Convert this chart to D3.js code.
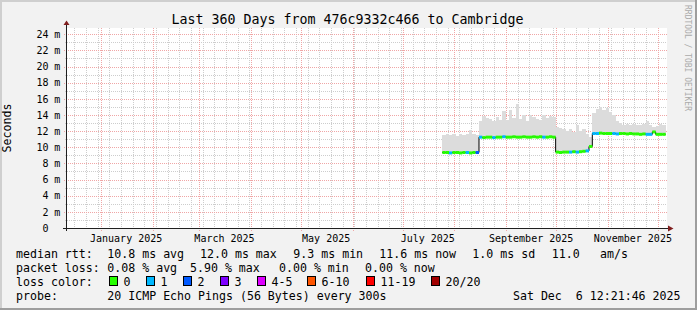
<!DOCTYPE html>
<html>
<head>
<meta charset="utf-8">
<script src="https://cdn.jsdelivr.net/npm/d3@7"></script>
<style>
  body { margin: 0; background: #f2f2f2; }
  svg { display: block; }
  text { font-family: "DejaVu Sans Mono", monospace; fill: #000; white-space: pre; }
</style>
</head>
<body>
<div id="chart"></div>
<script>
"use strict"

// ---- data ----
const graphEnd = new Date(2025, 11, 6, 12, 21, 46);
const graphDays = 360;
const binStart = new Date(2025, 6, 24, 17, 0);   // first 2-day bin
const binDays = 2;

// median rtt per 2-day bin (ms)
const medianMs = [
  9.35, 9.35, 9.3, 9.35, 9.35, 9.3, 9.35, 9.35, 9.3, 9.35, 9.35,
  11.25, 11.2, 11.25, 11.25, 11.2, 11.25, 11.25, 11.3, 11.25, 11.25, 11.3, 11.25,
  11.25, 11.3, 11.25, 11.25, 11.3, 11.25, 11.3, 11.25, 11.25, 11.3, 11.25,
  9.4, 9.35, 9.4, 9.4, 9.4, 9.45, 9.4, 9.45, 9.5, 9.55,
  10.1,
  11.7, 11.7, 11.75, 11.7, 11.7, 11.7, 11.7, 11.65, 11.7, 11.7, 11.65,
  11.7, 11.65, 11.65, 11.6, 11.65, 11.6, 11.6, 11.9, 11.6, 11.6, 11.6
];

// top of the smoke (slowest ping) per bin (ms)
const smokeMaxMs = [
  11.5, 11.6, 11.5, 11.7, 11.4, 11.6, 11.5, 11.7, 12.1, 11.6, 11.5,
  13.2, 13.9, 13.6, 13.5, 13.3, 13.7, 13.4, 14.5, 13.4, 14.6, 13.6, 15.4,
  13.5, 14.0, 13.3, 14.0, 13.8, 13.5, 13.4, 14.0, 13.6, 13.9, 13.8,
  12.5, 12.4, 12.3, 12.0, 12.2, 11.9, 12.7, 12.0, 12.3, 11.6,
  11.3,
  14.3, 14.8, 15.0, 14.6, 14.9, 14.4, 14.0, 13.3, 13.0, 12.8, 12.9,
  12.7, 12.9, 12.7, 12.8, 12.9, 13.2, 12.7, 12.5, 12.6, 12.9, 12.8
];

// lost pings (of 20) per bin
const lostPings = [
  0, 0, 1, 0, 0, 0, 0, 1, 0, 0, 2,
  1, 0, 0, 0, 1, 0, 0, 1, 0, 0, 0, 0,
  0, 0, 0, 0, 0, 0, 0, 1, 0, 0, 0,
  0, 0, 0, 0, 1, 0, 1, 0, 0, 1,
  0,
  1, 1, 0, 0, 0, 0, 1, 1, 0, 0, 0,
  0, 0, 0, 0, 0, 1, 1, 0, 0, 0, 0
];

const yMajorTicks = [0, 2, 4, 6, 8, 10, 12, 14, 16, 18, 20, 22, 24];
const xLabelMonths = ["January 2025", "March 2025", "May 2025", "July 2025", "September 2025", "November 2025"];

const titleText = "Last 360 Days from 476c9332c466 to Cambridge";
const rttStats = ["10.8 ms avg", "12.0 ms max", "9.3 ms min", "11.6 ms now", "1.0 ms sd", "11.0", "am/s"];
const lossStats = ["0.08 % avg", "5.90 % max", "0.00 % min", "0.00 % now"];
const lossClasses = ["0", "1", "2", "3", "4-5", "6-10", "11-19", "20/20"];
const lossColors = ["#26ff00", "#00b8ff", "#0059ff", "#7e00ff", "#dd00ff", "#ff5500", "#ff0000", "#a10000"];
const lossBreaks = [1, 2, 3, 4, 6, 11, 20];
const probeText = "20 ICMP Echo Pings (56 Bytes) every 300s";
const stampText = "Sat Dec  6 12:21:46 2025";

// ---- layout ----
const width = 697, height = 310;
const plot = { left: 67, right: 667, top: 28, bottom: 228 };
const rttX = [107.3, 200, 293.3, 379.3, 472.3, 551.7, 600];
const lossX = [107.3, 190, 279, 365];
const boxX = [109, 146, 183, 220, 257, 307, 366, 431];
const rowY = [258.3, 272.2, 286, 299.8];

window.addEventListener("load", drawChart);

function drawChart() {
  let graphStart = new Date(graphEnd.getTime() - graphDays * 864e5);
  let x = d3.scaleTime().domain([graphStart, graphEnd]).range([plot.left, plot.right]);
  let y = d3.scaleLinear().domain([0, 24.77]).range([plot.bottom, plot.top]);
  let lossColor = d3.scaleThreshold().domain(lossBreaks).range(lossColors);

  let bins = medianMs.map((m, i) => ({
    start: d3.timeHour.offset(binStart, i * binDays * 24),
    end: d3.timeHour.offset(binStart, (i + 1) * binDays * 24),
    median: m,
    smoke: smokeMaxMs[i],
    lost: lostPings[i]
  }));

  let svg = d3.select("#chart").append("svg")
    .attr("width", width)
    .attr("height", height);

  // background and 3d frame
  svg.append("rect").attr("width", width).attr("height", height).attr("fill", "#f2f2f2");
  svg.append("rect").attr("width", width).attr("height", 2).attr("fill", "#cfcfcf");
  svg.append("rect").attr("width", 2).attr("height", height).attr("fill", "#cfcfcf");
  svg.append("rect").attr("x", width - 2).attr("width", 2).attr("height", height).attr("fill", "#9e9e9e");
  svg.append("rect").attr("y", height - 2).attr("width", width).attr("height", 2).attr("fill", "#9e9e9e");

  svg.append("rect")
    .attr("x", plot.left).attr("y", plot.top)
    .attr("width", plot.right - plot.left).attr("height", plot.bottom - plot.top)
    .attr("fill", "#fff");

  let grid = svg.append("g").attr("shape-rendering", "crispEdges");

  // minor grid: every week and every 1 ms
  let weeks = d3.timeMonday.range(graphStart, graphEnd).filter(d => d.getDate() !== 1);
  grid.selectAll(".vminor").data(weeks).enter().append("line")
    .attr("x1", d => Math.round(x(d)) + 0.5).attr("x2", d => Math.round(x(d)) + 0.5)
    .attr("y1", plot.top).attr("y2", plot.bottom + 2)
    .attr("stroke", "#cdcdcd").attr("stroke-dasharray", "1,1");
  let minorMs = d3.range(1, 25, 2);
  grid.selectAll(".hminor").data(minorMs).enter().append("line")
    .attr("x1", plot.left - 2).attr("x2", plot.right)
    .attr("y1", d => Math.round(y(d)) + 0.5).attr("y2", d => Math.round(y(d)) + 0.5)
    .attr("stroke", "#cdcdcd").attr("stroke-dasharray", "1,1");

  // major grid: every month and every 2 ms
  let months = d3.timeMonth.range(graphStart, graphEnd);
  grid.selectAll(".vmajor").data(months).enter().append("line")
    .attr("x1", d => Math.round(x(d)) + 0.5).attr("x2", d => Math.round(x(d)) + 0.5)
    .attr("y1", plot.top).attr("y2", plot.bottom + 3)
    .attr("stroke", "#f0a6a6").attr("stroke-dasharray", "1,1");
  grid.selectAll(".hmajor").data(yMajorTicks.filter(d => d > 0)).enter().append("line")
    .attr("x1", plot.left - 3).attr("x2", plot.right)
    .attr("y1", d => Math.round(y(d)) + 0.5).attr("y2", d => Math.round(y(d)) + 0.5)
    .attr("stroke", "#f0a6a6").attr("stroke-dasharray", "1,1");

  // smoke
  svg.append("g").selectAll("rect").data(bins).enter().append("rect")
    .attr("x", d => x(d.start))
    .attr("width", d => x(d.end) - x(d.start))
    .attr("y", d => y(d.smoke))
    .attr("height", d => y(d.median) - y(d.smoke))
    .attr("fill", "#dcdcdc")
    .attr("shape-rendering", "crispEdges");

  // median: thin black step line with loss-coloured segments on top
  let stepLine = d3.line()
    .x(d => x(d[0]))
    .y(d => y(d[1]))
    .curve(d3.curveStepAfter);
  let stepPoints = bins.map(d => [d.start, d.median]);
  stepPoints.push([bins[bins.length - 1].end, bins[bins.length - 1].median]);
  svg.append("path")
    .attr("d", stepLine(stepPoints))
    .attr("fill", "none")
    .attr("stroke", "#000")
    .attr("stroke-width", 1);

  svg.append("g").selectAll("line").data(bins).enter().append("line")
    .attr("x1", d => x(d.start))
    .attr("x2", d => x(d.end))
    .attr("y1", d => y(d.median))
    .attr("y2", d => y(d.median))
    .attr("stroke", d => lossColor(d.lost))
    .attr("stroke-width", 3);

  // axes
  let axis = svg.append("g").attr("shape-rendering", "crispEdges");
  axis.append("line")
    .attr("x1", plot.left - 4).attr("x2", plot.right + 2)
    .attr("y1", plot.bottom + 0.5).attr("y2", plot.bottom + 0.5)
    .attr("stroke", "#1f1f1f");
  axis.append("line")
    .attr("x1", plot.left - 0.5).attr("x2", plot.left - 0.5)
    .attr("y1", plot.bottom + 3).attr("y2", plot.top - 3)
    .attr("stroke", "#1f1f1f");
  svg.append("path")
    .attr("d", `M${plot.right + 1},${plot.bottom - 2.5}L${plot.right + 6.5},${plot.bottom + 0.5}L${plot.right + 1},${plot.bottom + 3.5}Z`)
    .attr("fill", "#801f1f");
  svg.append("path")
    .attr("d", `M${plot.left - 3.5},${plot.top - 3}L${plot.left - 0.5},${plot.top - 7.5}L${plot.left + 2.5},${plot.top - 3}Z`)
    .attr("fill", "#801f1f");

  // y tick labels
  let yLab = svg.append("g").style("font-size", "10px");
  yLab.selectAll(".num").data(yMajorTicks).enter().append("text")
    .attr("x", 48.5)
    .attr("y", d => y(d) + 3.7)
    .attr("text-anchor", "end")
    .text(d => d);
  yLab.selectAll(".unit").data(yMajorTicks.filter(d => d > 0)).enter().append("text")
    .attr("x", 54.2)
    .attr("y", d => y(d) + 3.7)
    .text("m");

  // x labels: centred half a month after the start of each labelled month
  let parseMonth = d3.timeParse("%B %Y");
  svg.append("g").style("font-size", "10px")
    .selectAll("text").data(xLabelMonths).enter().append("text")
    .attr("x", d => x(d3.timeDay.offset(parseMonth(d), 15)))
    .attr("y", 242)
    .attr("text-anchor", "middle")
    .text(d => d);

  // title, axis title, watermark
  svg.append("text")
    .attr("x", 347.5).attr("y", 24)
    .attr("text-anchor", "middle")
    .style("font-size", "13.3px")
    .text(titleText);
  svg.append("text")
    .attr("transform", `translate(10.5,${(plot.top + plot.bottom) / 2}) rotate(-90)`)
    .attr("text-anchor", "middle")
    .style("font-size", "11.6px")
    .text("Seconds");
  svg.append("text")
    .attr("transform", "translate(684.5,5) rotate(90)")
    .style("font-size", "8px")
    .style("fill", "#aaaaaa")
    .text("RRDTOOL / TOBI OETIKER");

  // legend
  let legend = svg.append("g").style("font-size", "11.6px");
  legend.append("text").attr("x", 16).attr("y", rowY[0]).text("median rtt:");
  legend.selectAll(".rtt").data(rttStats).enter().append("text")
    .attr("x", (d, i) => rttX[i]).attr("y", rowY[0]).text(d => d);

  legend.append("text").attr("x", 16).attr("y", rowY[1]).text("packet loss:");
  legend.selectAll(".loss").data(lossStats).enter().append("text")
    .attr("x", (d, i) => lossX[i]).attr("y", rowY[1]).text(d => d);

  legend.append("text").attr("x", 16).attr("y", rowY[2]).text("loss color:");
  legend.selectAll(".box").data(lossClasses).enter().append("rect")
    .attr("x", (d, i) => boxX[i] + 0.5).attr("y", rowY[2] - 9.5)
    .attr("width", 8).attr("height", 9)
    .attr("fill", (d, i) => lossColors[i])
    .attr("stroke", "#000")
    .attr("shape-rendering", "crispEdges");
  legend.selectAll(".cls").data(lossClasses).enter().append("text")
    .attr("x", (d, i) => boxX[i] + 14.5).attr("y", rowY[2]).text(d => d);

  legend.append("text").attr("x", 16).attr("y", rowY[3]).text("probe:");
  legend.append("text").attr("x", 107.3).attr("y", rowY[3]).text(probeText);
  legend.append("text").attr("x", 680.5).attr("y", rowY[3])
    .attr("text-anchor", "end").text(stampText);
}
</script>
</body>
</html>
